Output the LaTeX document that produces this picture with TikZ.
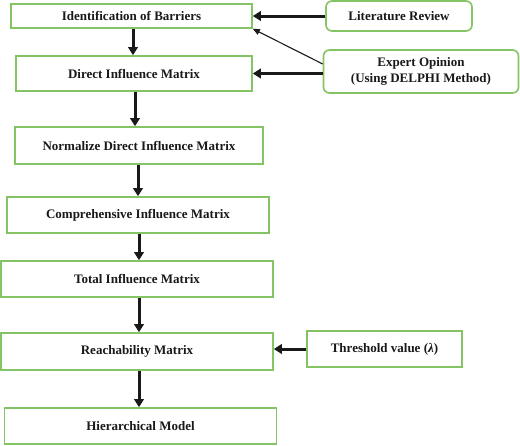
\documentclass[tikz,border=0pt]{standalone}
\usepackage{fontspec}
\setmainfont{Liberation Serif}
\usetikzlibrary{arrows.meta}
\definecolor{boxgreen}{RGB}{132,196,100}
\definecolor{txt}{RGB}{25,25,25}
\begin{document}
\begin{tikzpicture}[x=1pt,y=-1pt,
  box/.style={draw=boxgreen,line width=1.6pt,fill=white,inner sep=0pt,
    font=\fontsize{13}{16.5}\selectfont\bfseries,text=txt,align=center},
  rbox/.style={box,rounded corners=6pt},
  arr/.style={draw=txt,line width=3pt,-{Triangle[length=8pt,width=9.5pt]}},
  thin/.style={draw=txt,line width=1.1pt,-{Triangle[length=7pt,width=6pt]}}]
\useasboundingbox (0,0) rectangle (520,445);
\node[box,minimum width=241pt,minimum height=24pt] (b1) at (131.5,16) {Identification of Barriers};
\node[rbox,minimum width=146pt,minimum height=30pt] (lit) at (399,16) {Literature Review};
\node[box,minimum width=236pt,minimum height=35pt] (b2) at (134,73.5) {Direct Influence Matrix};
\node[rbox,minimum width=195pt,minimum height=43pt] (exp) at (421,71.5) {Expert Opinion\\(Using DELPHI Method)};
\node[box,minimum width=248pt,minimum height=37pt] (b3) at (139,145.5) {Normalize Direct Influence Matrix};
\node[box,minimum width=262pt,minimum height=36pt] (b4) at (138,215) {Comprehensive Influence Matrix};
\node[box,minimum width=272pt,minimum height=36pt] (b5) at (137,279) {Total Influence Matrix};
\node[box,minimum width=272pt,minimum height=37pt] (b6) at (137,351.5) {Reachability Matrix};
\node[box,minimum width=155pt,minimum height=36pt] (thr) at (384.5,349) {Threshold value (\textit{λ})};
\node[box,minimum width=272pt,minimum height=36pt] (b7) at (140.5,426) {Hierarchical Model};
\draw[arr] ([xshift=1.5pt]b1.south) -- ([xshift=1.5pt]b1.south |- b2.north);
\draw[arr] ([xshift=1pt]b2.south) -- ([xshift=1pt]b2.south |- b3.north);
\draw[arr] ([xshift=-1pt]b3.south) -- ([xshift=-1pt]b3.south |- b4.north);
\draw[arr] ([xshift=1pt]b4.south) -- ([xshift=1pt]b4.south |- b5.north);
\draw[arr] ([xshift=2pt]b5.south) -- ([xshift=2pt]b5.south |- b6.north);
\draw[arr] ([xshift=2pt]b6.south) -- ([xshift=2pt]b6.south |- b7.north);
\draw[arr] (lit.west) -- (lit.west -| b1.east);
\draw[arr] (exp.west |- b2.east) -- (b2.east);
\draw[arr] (thr.west) -- (thr.west -| b6.east);
\draw[thin] ([yshift=7.5pt]exp.west) -- (b1.south east);
\end{tikzpicture}
\end{document}
